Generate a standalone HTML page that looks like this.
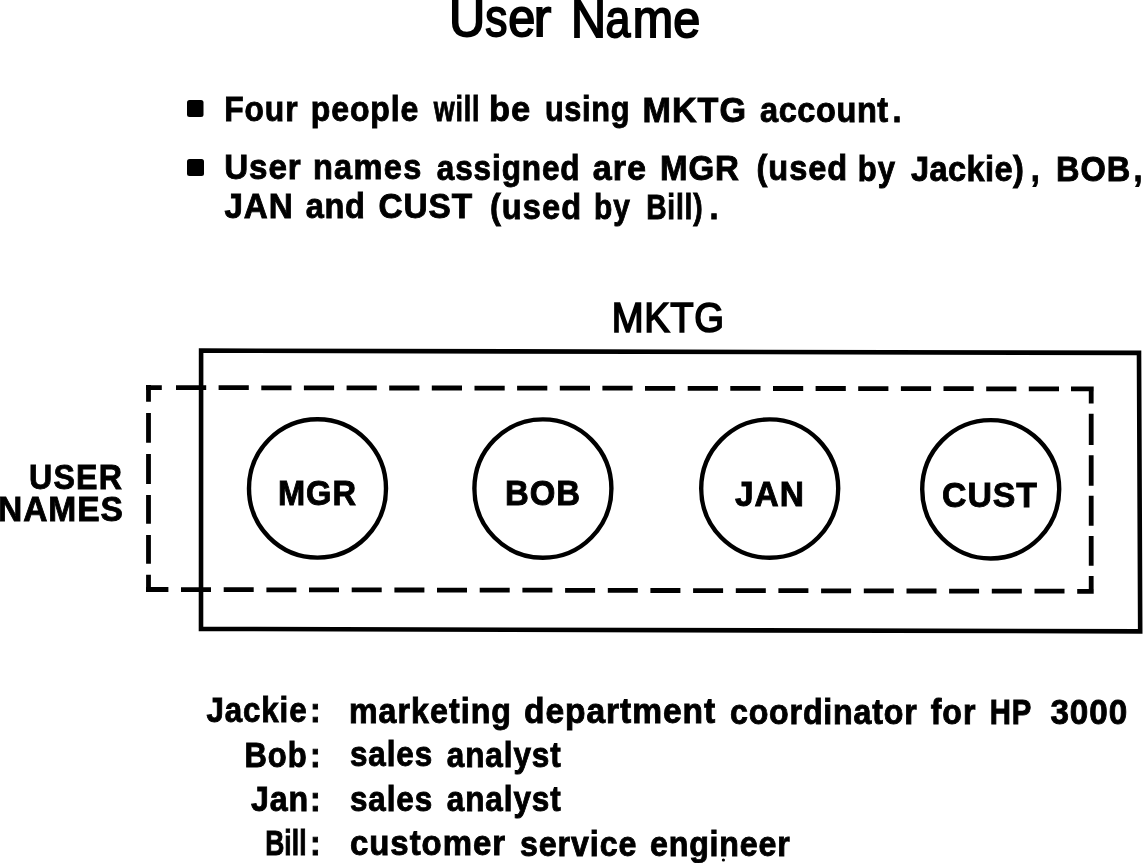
<!DOCTYPE html>
<html><head><meta charset="utf-8">
<style>
html,body{margin:0;padding:0;background:#fff;}
body{width:1143px;height:863px;position:relative;overflow:hidden;}
svg{position:absolute;left:0;top:0;will-change:transform;}
</style></head><body>
<svg width="1143" height="863" viewBox="0 0 1143 863" font-family="&quot;Liberation Sans&quot;, sans-serif">
<rect x="187" y="100" width="16.5" height="17" rx="2.5" fill="#000"/>
<rect x="187" y="159" width="17" height="17" rx="2.5" fill="#000"/>
<path d="M201.1 350.6 L1139 352.9 L1140.2 631.4 L201 628.9 Z" fill="none" stroke="#000" stroke-width="4.6" stroke-linejoin="miter"/>
<ellipse cx="317.5" cy="488.4" rx="68.5" ry="69.2" fill="none" stroke="#000" stroke-width="4.4"/>
<ellipse cx="542.9" cy="488.6" rx="68.5" ry="69.2" fill="none" stroke="#000" stroke-width="4.4"/>
<ellipse cx="769.7" cy="488.6" rx="68.5" ry="69.2" fill="none" stroke="#000" stroke-width="4.4"/>
<ellipse cx="990.7" cy="489.3" rx="68.5" ry="69.2" fill="none" stroke="#000" stroke-width="4.4"/>
<path d="M146 387.6 H161.8 M148.5 385.1 V401.7 M1071 388.9 H1093.7 M1091.2 386.4 V403.6 M146 589.5 H168.4 M148.5 592.0 V574.8 M1077.2 591.3 H1093.7 M1091.2 593.8 V576 M176.0 387.7 H206.2 M218.6 387.7 H248.8 M261.3 387.8 H291.5 M303.9 387.8 H334.1 M346.6 387.9 H376.8 M389.2 388.0 H419.4 M431.8 388.0 H462.0 M474.5 388.1 H504.7 M517.1 388.1 H547.3 M559.8 388.2 H590.0 M602.4 388.2 H632.6 M645.0 388.3 H675.2 M687.7 388.4 H717.9 M730.3 388.4 H760.5 M773.0 388.5 H803.2 M815.6 388.5 H845.8 M858.2 388.6 H888.4 M900.9 388.7 H931.1 M943.5 388.7 H973.7 M986.2 388.8 H1016.4 M1028.8 388.8 H1059.0 M181.0 589.6 H211.0 M223.7 589.7 H253.7 M266.4 589.8 H296.4 M309.0 589.8 H339.0 M351.7 589.9 H381.7 M394.4 590.0 H424.4 M437.0 590.1 H467.0 M479.7 590.2 H509.7 M522.4 590.2 H552.4 M565.1 590.3 H595.1 M607.8 590.4 H637.8 M650.4 590.5 H680.4 M693.1 590.6 H723.1 M735.8 590.6 H765.8 M778.4 590.7 H808.4 M821.1 590.8 H851.1 M863.8 590.9 H893.8 M906.5 591.0 H936.5 M949.1 591.1 H979.1 M991.8 591.1 H1021.8 M1034.5 591.2 H1064.5 M148.5 412.9 V442.7 M148.5 453.9 V483.9 M148.5 495.1 V523.8 M148.5 534.9 V563.7 M1091.2 413.8 V445 M1091.2 455.2 V485.8 M1091.2 495.7 V525.7 M1091.2 535.9 V565.8" fill="none" stroke="#000" stroke-width="4.8"/>
<circle cx="723.4" cy="860" r="1.6" fill="#000"/>
<g fill="#000">
<text x="0" y="36.27" transform="matrix(0.9839399145732352 0 0 1 449.00 0)" font-size="51" font-weight="normal" stroke="#000" stroke-width="1.8">U</text>
<text x="0" y="36.34" transform="matrix(0.8697406835351548 0 0 1 485.20 0)" font-size="51" font-weight="normal" stroke="#000" stroke-width="1.8">s</text>
<text x="0" y="36.4" transform="matrix(0.9519808166595538 0 0 1 508.30 0)" font-size="51" font-weight="normal" stroke="#000" stroke-width="1.8">e</text>
<text x="0" y="36.46" transform="matrix(1.0305695232616083 0 0 1 533.80 0)" font-size="51" font-weight="normal" stroke="#000" stroke-width="1.8">r</text>
<text x="0" y="36.57" transform="matrix(0.951314032978149 0 0 1 570.90 0)" font-size="51" font-weight="normal" stroke="#000" stroke-width="1.8">N</text>
<text x="0" y="36.65" transform="matrix(0.8784671321687324 0 0 1 605.60 0)" font-size="51" font-weight="normal" stroke="#000" stroke-width="1.8">a</text>
<text x="0" y="36.73" transform="matrix(0.9503233349186365 0 0 1 632.80 0)" font-size="51" font-weight="normal" stroke="#000" stroke-width="1.8">m</text>
<text x="0" y="36.82" transform="matrix(0.9518963410171595 0 0 1 673.20 0)" font-size="51" font-weight="normal" stroke="#000" stroke-width="1.8">e</text>
<text x="0" y="120.59" transform="matrix(0.8990622009569403 0 0 1 224.20 0)" font-size="35.4" font-weight="bold" textLength="81.64" lengthAdjust="spacing" stroke="#000" stroke-width="0.9">Four</text>
<text x="0" y="120.85" transform="matrix(0.9037270341207332 0 0 1 310.80 0)" font-size="35.4" font-weight="bold" textLength="119.06" lengthAdjust="spacing" stroke="#000" stroke-width="0.9">people</text>
<text x="0" y="121.07" transform="matrix(0.7596043727225368 0 0 1 433.80 0)" font-size="35.4" font-weight="bold" textLength="60.03" lengthAdjust="spacing" stroke="#000" stroke-width="0.9">will</text>
<text x="0" y="121.21" transform="matrix(0.9737075332348658 0 0 1 489.00 0)" font-size="35.4" font-weight="bold" textLength="42.31" lengthAdjust="spacing" stroke="#000" stroke-width="0.9">be</text>
<text x="0" y="121.4" transform="matrix(0.8681067344345602 0 0 1 545.00 0)" font-size="35.4" font-weight="bold" textLength="97.22" lengthAdjust="spacing" stroke="#000" stroke-width="0.9">using</text>
<text x="0" y="121.67" transform="matrix(0.9646647230320688 0 0 1 642.60 0)" font-size="35.4" font-weight="bold" textLength="107.19" lengthAdjust="spacing" stroke="#000" stroke-width="0.9">MKTG</text>
<text x="0" y="122.0" transform="matrix(0.92 0 0 1 760.00 0)" font-size="35.4" font-weight="bold" textLength="139.35" lengthAdjust="spacing" stroke="#000" stroke-width="0.9">account</text>
<text x="0" y="122.18" transform="matrix(0.92 0 0 1 892.60 0)" font-size="35.4" font-weight="bold" stroke="#000" stroke-width="0.9">.</text>
<text x="0" y="179.09" transform="matrix(0.9375406387454599 0 0 1 224.20 0)" font-size="35.4" font-weight="bold" textLength="81.70" lengthAdjust="spacing" stroke="#000" stroke-width="0.9">User</text>
<text x="0" y="179.35" transform="matrix(0.92 0 0 1 312.90 0)" font-size="35.4" font-weight="bold" textLength="117.83" lengthAdjust="spacing" stroke="#000" stroke-width="0.9">names</text>
<text x="0" y="179.7" transform="matrix(0.890152917113081 0 0 1 436.80 0)" font-size="35.4" font-weight="bold" textLength="160.42" lengthAdjust="spacing" stroke="#000" stroke-width="0.9">assigned</text>
<text x="0" y="179.98" transform="matrix(0.964805894020974 0 0 1 592.80 0)" font-size="35.4" font-weight="bold" textLength="55.14" lengthAdjust="spacing" stroke="#000" stroke-width="0.9">are</text>
<text x="0" y="180.19" transform="matrix(0.9340476630334382 0 0 1 660.00 0)" font-size="35.4" font-weight="bold" textLength="84.58" lengthAdjust="spacing" stroke="#000" stroke-width="0.9">MGR</text>
<text x="0" y="180.44" transform="matrix(0.92 0 0 1 756.60 0)" font-size="35.4" font-weight="bold" textLength="98.48" lengthAdjust="spacing" stroke="#000" stroke-width="0.9">(used</text>
<text x="0" y="180.63" transform="matrix(0.8791728212703165 0 0 1 857.80 0)" font-size="35.4" font-weight="bold" textLength="42.31" lengthAdjust="spacing" stroke="#000" stroke-width="0.9">by</text>
<text x="0" y="180.85" transform="matrix(0.92 0 0 1 910.90 0)" font-size="35.4" font-weight="bold" textLength="122.83" lengthAdjust="spacing" stroke="#000" stroke-width="0.9">Jackie)</text>
<text x="0" y="181.02" transform="matrix(0.92 0 0 1 1030.70 0)" font-size="35.4" font-weight="bold" stroke="#000" stroke-width="0.9">,</text>
<text x="0" y="181.17" transform="matrix(0.92 0 0 1 1055.90 0)" font-size="35.4" font-weight="bold" textLength="80.98" lengthAdjust="spacing" stroke="#000" stroke-width="0.9">BOB</text>
<text x="0" y="181.28" transform="matrix(0.92 0 0 1 1133.60 0)" font-size="35.4" font-weight="bold" stroke="#000" stroke-width="0.9">,</text>
<text x="0" y="218.08" transform="matrix(0.9366523605150229 0 0 1 224.40 0)" font-size="35.4" font-weight="bold" textLength="72.81" lengthAdjust="spacing" stroke="#000" stroke-width="0.9">JAN</text>
<text x="0" y="218.27" transform="matrix(0.92 0 0 1 305.80 0)" font-size="35.4" font-weight="bold" textLength="64.13" lengthAdjust="spacing" stroke="#000" stroke-width="0.9">and</text>
<text x="0" y="218.5" transform="matrix(0.9441962881409255 0 0 1 378.40 0)" font-size="35.4" font-weight="bold" textLength="99.34" lengthAdjust="spacing" stroke="#000" stroke-width="0.9">CUST</text>
<text x="0" y="218.78" transform="matrix(0.92 0 0 1 489.90 0)" font-size="35.4" font-weight="bold" textLength="99.24" lengthAdjust="spacing" stroke="#000" stroke-width="0.9">(used</text>
<text x="0" y="218.97" transform="matrix(0.8460856720827115 0 0 1 594.00 0)" font-size="35.4" font-weight="bold" textLength="42.31" lengthAdjust="spacing" stroke="#000" stroke-width="0.9">by</text>
<text x="0" y="219.12" transform="matrix(0.7961182179091291 0 0 1 646.20 0)" font-size="35.4" font-weight="bold" textLength="70.84" lengthAdjust="spacing" stroke="#000" stroke-width="0.9">Bill)</text>
<text x="0" y="219.22" transform="matrix(0.92 0 0 1 709.40 0)" font-size="35.4" font-weight="bold" stroke="#000" stroke-width="0.9">.</text>
<text x="0" y="332.0" transform="matrix(0.8898059444853864 0 0 1 611.80 0)" font-size="43" font-weight="normal" textLength="126.09" lengthAdjust="spacing" stroke="#000" stroke-width="1.7">MKTG</text>
<text x="0" y="489.3" transform="matrix(0.8929329693660903 0 0 1 29.00 0)" font-size="36" font-weight="bold" textLength="104.15" lengthAdjust="spacing" stroke="#000" stroke-width="0.9">USER</text>
<text x="0" y="521.3" transform="matrix(0.9327270607438498 0 0 1 -2.00 0)" font-size="36" font-weight="bold" textLength="134.02" lengthAdjust="spacing" stroke="#000" stroke-width="0.9">NAMES</text>
<text x="0" y="504.8" transform="matrix(0.9323870003735525 0 0 1 278.00 0)" font-size="35" font-weight="bold" textLength="83.66" lengthAdjust="spacing" stroke="#000" stroke-width="0.9">MGR</text>
<text x="0" y="505.5" transform="matrix(0.9512485136741974 0 0 1 505.00 0)" font-size="34.6" font-weight="bold" textLength="78.84" lengthAdjust="spacing" stroke="#000" stroke-width="0.9">BOB</text>
<text x="0" y="506.3" transform="matrix(0.9663019693654267 0 0 1 735.00 0)" font-size="34.7" font-weight="bold" textLength="71.41" lengthAdjust="spacing" stroke="#000" stroke-width="0.9">JAN</text>
<text x="0" y="507.5" transform="matrix(0.9457147301291023 0 0 1 942.00 0)" font-size="35.8" font-weight="bold" textLength="100.45" lengthAdjust="spacing" stroke="#000" stroke-width="0.9">CUST</text>
<text x="0" y="722.02" transform="matrix(0.8941438929168999 0 0 1 206.40 0)" font-size="35" font-weight="bold" textLength="112.06" lengthAdjust="spacing" stroke="#000" stroke-width="0.9">Jackie</text>
<text x="0" y="722.16" transform="matrix(0.92 0 0 1 310.00 0)" font-size="35" font-weight="bold" stroke="#000" stroke-width="0.9">:</text>
<text x="0" y="766.52" transform="matrix(0.885121570376982 0 0 1 244.60 0)" font-size="35" font-weight="bold" textLength="70.05" lengthAdjust="spacing" stroke="#000" stroke-width="0.9">Bob</text>
<text x="0" y="766.61" transform="matrix(0.92 0 0 1 310.00 0)" font-size="35" font-weight="bold" stroke="#000" stroke-width="0.9">:</text>
<text x="0" y="811.0" transform="matrix(0.92 0 0 1 251.00 0)" font-size="35" font-weight="bold" textLength="62.07" lengthAdjust="spacing" stroke="#000" stroke-width="0.9">Jan</text>
<text x="0" y="811.09" transform="matrix(0.92 0 0 1 310.00 0)" font-size="35" font-weight="bold" stroke="#000" stroke-width="0.9">:</text>
<text x="0" y="855.0" transform="matrix(0.7553984226271454 0 0 1 265.20 0)" font-size="35" font-weight="bold" textLength="54.81" lengthAdjust="spacing" stroke="#000" stroke-width="0.9">Bill</text>
<text x="0" y="855.08" transform="matrix(0.92 0 0 1 310.00 0)" font-size="35" font-weight="bold" stroke="#000" stroke-width="0.9">:</text>
<text x="0" y="722.56" transform="matrix(0.92 0 0 1 349.00 0)" font-size="35" font-weight="bold" textLength="176.09" lengthAdjust="spacing" stroke="#000" stroke-width="0.9">marketing</text>
<text x="0" y="723.04" transform="matrix(0.9579458274620335 0 0 1 524.00 0)" font-size="35" font-weight="bold" textLength="199.59" lengthAdjust="spacing" stroke="#000" stroke-width="0.9">department</text>
<text x="0" y="723.54" transform="matrix(0.92 0 0 1 730.00 0)" font-size="35" font-weight="bold" textLength="202.93" lengthAdjust="spacing" stroke="#000" stroke-width="0.9">coordinator</text>
<text x="0" y="723.87" transform="matrix(0.92 0 0 1 930.70 0)" font-size="35" font-weight="bold" textLength="48.70" lengthAdjust="spacing" stroke="#000" stroke-width="0.9">for</text>
<text x="0" y="724.01" transform="matrix(0.8382871536524096 0 0 1 989.80 0)" font-size="35" font-weight="bold" textLength="49.62" lengthAdjust="spacing" stroke="#000" stroke-width="0.9">HP</text>
<text x="0" y="724.21" transform="matrix(0.9496136012364726 0 0 1 1050.40 0)" font-size="35" font-weight="bold" textLength="80.88" lengthAdjust="spacing" stroke="#000" stroke-width="0.9">3000</text>
<text x="0" y="766.36" transform="matrix(0.8974411463664272 0 0 1 350.00 0)" font-size="35" font-weight="bold" textLength="91.59" lengthAdjust="spacing" stroke="#000" stroke-width="0.9">sales</text>
<text x="0" y="766.64" transform="matrix(0.9002961500493557 0 0 1 446.80 0)" font-size="35" font-weight="bold" textLength="126.62" lengthAdjust="spacing" stroke="#000" stroke-width="0.9">analyst</text>
<text x="0" y="810.66" transform="matrix(0.8974411463664272 0 0 1 350.00 0)" font-size="35" font-weight="bold" textLength="91.59" lengthAdjust="spacing" stroke="#000" stroke-width="0.9">sales</text>
<text x="0" y="810.94" transform="matrix(0.9002961500493557 0 0 1 446.80 0)" font-size="35" font-weight="bold" textLength="126.62" lengthAdjust="spacing" stroke="#000" stroke-width="0.9">analyst</text>
<text x="0" y="855.4" transform="matrix(0.941891378655526 0 0 1 350.00 0)" font-size="35" font-weight="bold" textLength="164.56" lengthAdjust="spacing" stroke="#000" stroke-width="0.9">customer</text>
<text x="0" y="855.78" transform="matrix(0.92 0 0 1 520.00 0)" font-size="35" font-weight="bold" textLength="126.52" lengthAdjust="spacing" stroke="#000" stroke-width="0.9">service</text>
<text x="0" y="856.14" transform="matrix(0.92 0 0 1 650.00 0)" font-size="35" font-weight="bold" textLength="151.96" lengthAdjust="spacing" stroke="#000" stroke-width="0.9">engineer</text>
</g>
</svg>
</body></html>
